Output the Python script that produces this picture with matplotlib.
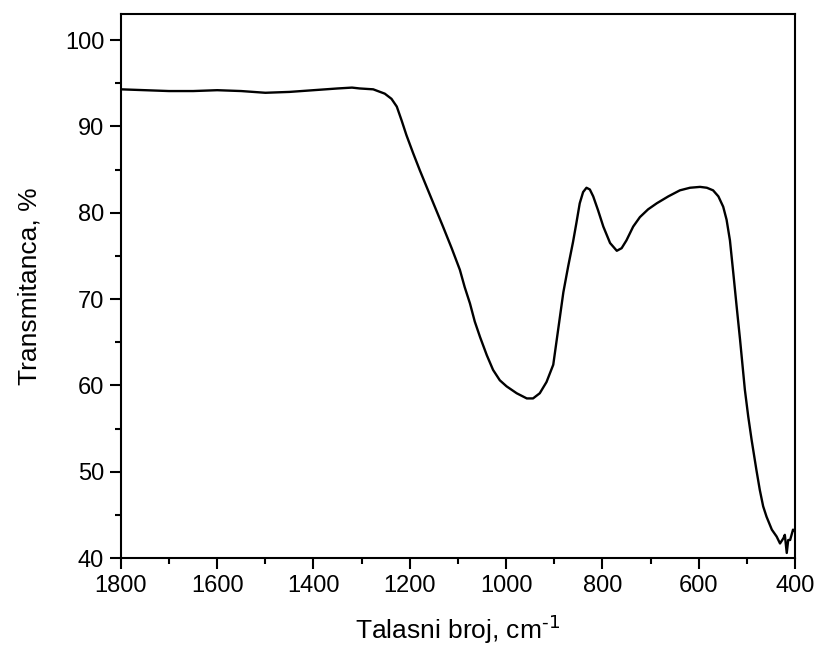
import numpy as np
import matplotlib.pyplot as plt

# FTIR spectrum, points
wavenumber = [1800, 1750, 1700, 1650, 1600, 1550, 1500, 1450, 1400, 1350, 1320,
              1304, 1276, 1252, 1238, 1227, 1217, 1207, 1193, 1179, 1165, 1148,
              1131, 1113, 1096, 1086, 1075, 1065, 1054, 1040, 1027, 1013, 999,
              978, 957, 944, 930, 916, 902, 895, 888,
              881, 871, 861, 854, 847, 840, 833, 826, 819, 809, 798, 784, 770,
              760, 750, 736, 722, 705, 687, 663, 639, 618,
              597, 583, 570, 559, 549, 542, 535, 528, 521, 514, 504, 497, 490,
              480, 473, 466, 459, 448, 438, 431, 424, 421, 417, 414, 410, 404, 400]
transmittance = [94.3, 94.2, 94.1, 94.1, 94.2, 94.1, 93.9, 94.0, 94.2, 94.4, 94.5,
                 94.4, 94.3, 93.8, 93.2, 92.3, 90.7, 89.0, 86.9, 84.9, 83.0, 80.7,
                 78.4, 75.9, 73.4, 71.4, 69.5, 67.4, 65.6, 63.5, 61.8, 60.6, 59.9,
                 59.1, 58.5, 58.5, 59.1, 60.4, 62.4, 65.2, 68.0,
                 70.8, 73.8, 76.6, 78.8, 81.1, 82.4, 82.9, 82.7, 81.9, 80.3, 78.4, 76.5, 75.6,
                 75.9, 76.8, 78.4, 79.5, 80.4, 81.1, 81.9, 82.6, 82.9,
                 83.0, 82.9, 82.6, 81.9, 80.7, 79.2, 76.8, 73.0, 69.1, 65.3, 59.5, 56.4, 53.7,
                 50.2, 47.9, 46.0, 44.8, 43.3, 42.5, 41.7, 42.3, 42.7, 40.6, 42.1, 42.1, 43.3, 43.1]

plt.rcParams['font.family'] = ['Liberation Sans', 'DejaVu Sans']

fig = plt.figure(figsize=(8.17, 6.46), dpi=100)
ax = fig.add_axes([0.148, 0.136, 0.825, 0.842])

ax.plot(wavenumber, transmittance, color='black', lw=1.7)

ax.set_xlim(1800, 400)
ax.set_ylim(40, 103)
ax.set_xticks([1800, 1600, 1400, 1200, 1000, 800, 600, 400])
ax.set_xticks([1700, 1500, 1300, 1100, 900, 700, 500], minor=True)
ax.set_yticks([40, 50, 60, 70, 80, 90, 100])
ax.set_yticks([45, 55, 65, 75, 85, 95], minor=True)

for s in ax.spines.values():
    s.set_linewidth(1.5)
ax.tick_params(which='major', direction='out', length=8, width=1.5, labelsize=17, pad=4)
ax.tick_params(which='minor', direction='out', length=4, width=1.5)

ax.set_xlabel(r'Talasni broj, cm$^{\text{-1}}$', fontsize=19, labelpad=11)
ax.set_ylabel('Transmitanca, %', fontsize=19, labelpad=17)

fig.savefig('out.png', dpi=100)
